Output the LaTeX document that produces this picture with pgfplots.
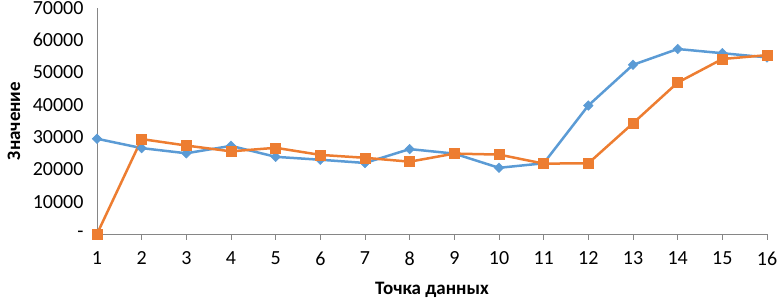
\documentclass[border=0pt]{standalone}
\usepackage{pgfplots}
\pgfplotsset{compat=1.18}
\usepackage{fontspec}
\setmainfont{Carlito}
\definecolor{cblue}{HTML}{5B9BD5}
\definecolor{corange}{HTML}{ED7D31}
\definecolor{axgray}{HTML}{868686}
\begin{document}
\begin{tikzpicture}
\path[use as bounding box] (-97pt,-68pt) rectangle (680pt,234pt);
\begin{axis}[
  scale only axis,
  width=670pt, height=226pt,
  xmin=1, xmax=16, ymin=0, ymax=70000,
  axis x line*=bottom, axis y line*=left,
  axis line style={axgray, line width=0.8pt, -},
  xtick={1,...,16},
  ytick={0,10000,20000,30000,40000,50000,60000,70000},
  yticklabels={{-\hspace{8pt}},10000,20000,30000,40000,50000,60000,70000},
  xtick style={axgray, line width=0.8pt},
  ytick style={draw=none},
  tick align=outside,
  major tick length=6pt,
  /pgf/number format/assume math mode=true,
  scaled y ticks=false,
  ticklabel style={font=\fontsize{20}{24}\selectfont, text=black},
  xticklabel style={yshift=-8pt},
  yticklabel style={/pgf/number format/1000 sep={}, xshift=-4pt},
  xlabel={Точка данных},
  ylabel={Значение},
  every axis x label/.style={at={(rel axis cs:0.5,0)}, yshift=-56pt, anchor=center, font=\fontsize{19}{23}\selectfont\bfseries},
  every axis y label/.style={at={(rel axis cs:0,0.5)}, xshift=-83pt, rotate=90, anchor=center, font=\fontsize{19}{23}\selectfont\bfseries},
  clip=false,
]
\addplot[cblue, line width=2.5pt, mark=square*, mark size=3.4pt, mark options={fill=cblue, draw=cblue, line width=0.5pt, rotate=45}] coordinates {
(1,29500) (2,26600) (3,25000) (4,27300) (5,23900) (6,23000) (7,22000) (8,26300)
(9,24900) (10,20500) (11,21900) (12,39800) (13,52400) (14,57300) (15,56000) (16,54700)
};
\addplot[corange, line width=2.5pt, mark=square*, mark size=5pt, mark options={fill=corange, draw=corange, line width=0.5pt}] coordinates {
(1,0) (2,29400) (3,27400) (4,25600) (5,26700) (6,24500) (7,23600) (8,22400)
(9,24900) (10,24600) (11,21800) (12,21900) (13,34300) (14,46900) (15,54200) (16,55400)
};
\end{axis}
\end{tikzpicture}
\end{document}
